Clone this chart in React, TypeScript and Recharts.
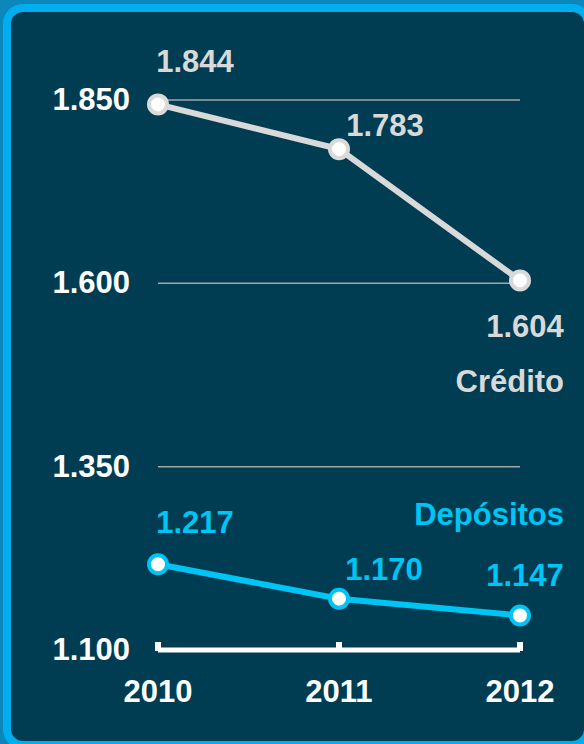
import React from 'react';
import { LineChart, Line, XAxis, YAxis, CartesianGrid, LabelList } from 'recharts';

const years = ['2010', '2011', '2012'];
const credito = [1844, 1783, 1604];
const depositos = [1217, 1170, 1147];
const yTicks = [1100, 1350, 1600, 1850];

// label offsets from each point (x center, baseline)
const creditoLabelOffset = [[37, -32], [46, -13], [5, 57]];
const depositosLabelOffset = [[37, -31], [45, -19], [5, -30]];

const data = years.map((year, i) => ({ year, credito: credito[i], depositos: depositos[i] }));

const FONT = '"Liberation Sans", Arial, sans-serif';
const GREY = '#d9d9d9';
const CYAN = '#00c4f4';

const fmt = (v: number) => (v / 1000).toFixed(3);

const makeLabel = (offsets: number[][], color: string, name: string, nameDy: number) => (props: any) => {
    const { x, y, value, index } = props;
    const [dx, dy] = offsets[index];
    const last = index === offsets.length - 1;
    return (
        <g>
            <text x={x + dx} y={y + dy} textAnchor="middle" fill={color} fontSize={31} fontWeight="bold" fontFamily={FONT}>
                {fmt(value)}
            </text>
            {last && (
                <text x={564} y={y + nameDy} textAnchor="end" fill={color} fontSize={31} fontWeight="bold" fontFamily={FONT}>
                    {name}
                </text>
            )}
        </g>
    );
};

const YTick = (props: any) => {
    const { x, y, payload } = props;
    return (
        <text x={x} y={y} dy={10} textAnchor="end" fill="#fff" fontSize={31} fontWeight="bold" fontFamily={FONT}>
            {fmt(payload.value)}
        </text>
    );
};

const XTick = (props: any) => {
    const { x, y, payload } = props;
    return (
        <g>
            <rect x={x - 3} y={y - 8} width={6} height={9} fill="#fff" />
            <text x={x} y={y + 52} textAnchor="middle" fill="#fff" fontSize={31} fontWeight="bold" fontFamily={FONT}>
                {payload.value}
            </text>
        </g>
    );
};

export default function App() {
    return (
        <div style={{ position: 'absolute', left: 0, top: 0, width: 584, height: 744, overflow: 'hidden', background: '#0b87bc' }}>
            <div
                style={{
                    position: 'absolute', left: 3, top: 4, width: 589, height: 745, boxSizing: 'border-box',
                    border: '8px solid #00aeef', borderRadius: 20, background: '#003d53'
                }}
            />
            <div style={{ position: 'absolute', left: 0, top: 0 }}>
                <LineChart width={584} height={744} data={data} margin={{ top: 100, right: 64, bottom: 64, left: 58 }}>
                    <CartesianGrid horizontal vertical={false} stroke="#a6a6a6" strokeWidth={1.5} />
                    <XAxis
                        dataKey="year"
                        height={30}
                        axisLine={{ stroke: '#fff', strokeWidth: 5 }}
                        tickLine={false}
                        tickSize={0}
                        tickMargin={0}
                        tick={<XTick />}
                        padding={{ left: 0, right: 0 }}
                    />
                    <YAxis
                        width={100}
                        domain={[1100, 1850]}
                        ticks={yTicks}
                        axisLine={false}
                        tickLine={false}
                        tickSize={0}
                        tickMargin={28}
                        tick={<YTick />}
                    />
                    <Line
                        dataKey="credito"
                        stroke={GREY}
                        strokeWidth={6}
                        dot={{ r: 9, fill: '#fff', stroke: GREY, strokeWidth: 4 }}
                        activeDot={false}
                        isAnimationActive={false}
                    >
                        <LabelList dataKey="credito" content={makeLabel(creditoLabelOffset, GREY, 'Crédito', 112)} />
                    </Line>
                    <Line
                        dataKey="depositos"
                        stroke={CYAN}
                        strokeWidth={6}
                        dot={{ r: 9, fill: '#fff', stroke: CYAN, strokeWidth: 4 }}
                        activeDot={false}
                        isAnimationActive={false}
                    >
                        <LabelList dataKey="depositos" content={makeLabel(depositosLabelOffset, CYAN, 'Depósitos', -91)} />
                    </Line>
                </LineChart>
            </div>
        </div>
    );
}
